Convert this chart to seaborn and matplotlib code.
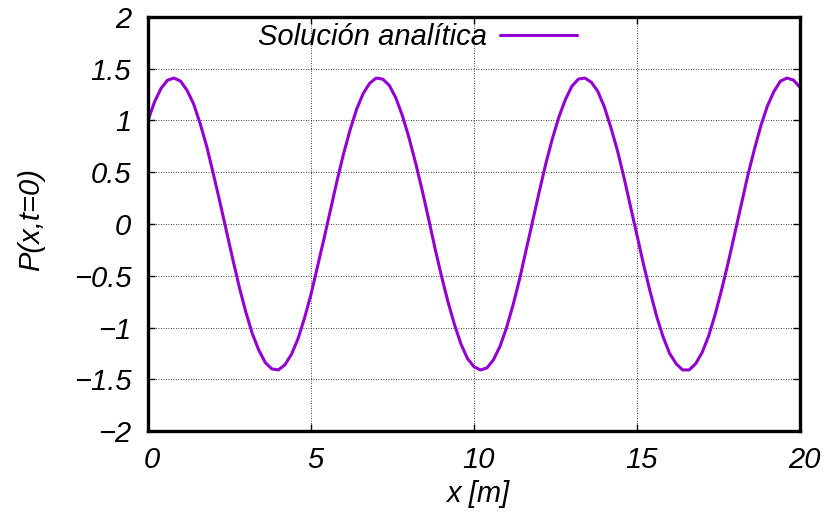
import numpy as np
import pandas as pd
import matplotlib.pyplot as plt
import matplotlib.transforms as mtransforms
import seaborn as sns

# values (x step 0.2)
x_vals = [round(0.2 * i, 1) for i in range(101)]
p_vals = [1.00, 1.18, 1.31, 1.39, 1.41, 1.38, 1.29, 1.16, 0.97, 0.75,
          0.49, 0.22, -0.06, -0.34, -0.61, -0.85, -1.06, -1.22, -1.34, -1.40,
          -1.41, -1.36, -1.26, -1.11, -0.91, -0.68, -0.41, -0.14, 0.14, 0.42,
          0.68, 0.91, 1.11, 1.26, 1.36, 1.41, 1.40, 1.34, 1.22, 1.05,
          0.84, 0.60, 0.34, 0.06, -0.23, -0.50, -0.75, -0.97, -1.16, -1.30,
          -1.38, -1.41, -1.39, -1.31, -1.18, -1.00, -0.78, -0.53, -0.25, 0.03,
          0.31, 0.58, 0.82, 1.03, 1.20, 1.33, 1.40, 1.41, 1.37, 1.28,
          1.13, 0.93, 0.71, 0.45, 0.17, -0.11, -0.39, -0.65, -0.89, -1.09,
          -1.25, -1.35, -1.41, -1.41, -1.35, -1.24, -1.08, -0.87, -0.63, -0.37,
          -0.09, 0.19, 0.47, 0.72, 0.95, 1.14, 1.28, 1.38, 1.41, 1.39,
          1.32]

x_ticks = [0, 5, 10, 15, 20]
y_ticks = [-2, -1.5, -1, -0.5, 0, 0.5, 1, 1.5, 2]
y_labels = ["\u22122", "\u22121.5", "\u22121", "\u22120.5", "0", "0.5", "1", "1.5", "2"]

df = pd.DataFrame({"x": x_vals, "P": p_vals})

sns.set_style("ticks")
plt.rcParams['font.family'] = ['Liberation Sans', 'DejaVu Sans']
plt.rcParams['font.style'] = 'italic'
plt.rcParams['text.color'] = 'black'
fs = 21

fig = plt.figure(figsize=(8.25, 5.12), dpi=100)
ax = fig.add_axes([0.1794, 0.1582, 0.7903, 0.8086])

sns.lineplot(data=df, x="x", y="P", ax=ax, color="#9400d3", linewidth=2.2,
             label="Solución analítica")

ax.set_xlim(0, 20)
ax.set_ylim(-2, 2)
ax.set_xticks(x_ticks)
ax.set_xticklabels([str(t) for t in x_ticks])
ax.set_yticks(y_ticks)
ax.set_yticklabels(y_labels)

ax.grid(True, color="black", linestyle=(0, (1, 2)), linewidth=0.6)
for s in ax.spines.values():
    s.set_linewidth(2.4)
    s.set_color("black")
ax.tick_params(direction="in", length=5, width=1, top=True, right=True,
               labelsize=fs, colors="black")
ax.tick_params(axis="y", pad=12)
ax.tick_params(axis="x", pad=11)
shift = mtransforms.ScaledTranslation(4 / 100, 0, fig.dpi_scale_trans)
for lab in ax.get_xticklabels():
    lab.set_fontstyle("italic")
    lab.set_transform(lab.get_transform() + shift)
for lab in ax.get_yticklabels():
    lab.set_fontstyle("italic")

ax.set_xlabel("x [m]", fontsize=fs, fontstyle="italic", color="black")
ax.set_ylabel("P(x,t=0)", fontsize=fs, fontstyle="italic", color="black")
ax.xaxis.set_label_coords(0.506, -0.118)
ax.yaxis.set_label_coords(-0.158, 0.51)

leg = ax.legend(loc="center", bbox_to_anchor=(0.413, 0.952), frameon=False,
                markerfirst=False, fontsize=fs, handlelength=2.65,
                handletextpad=0.45)
for t in leg.get_texts():
    t.set_fontstyle("italic")
    t.set_color("black")

fig.savefig("out.png", dpi=100)
